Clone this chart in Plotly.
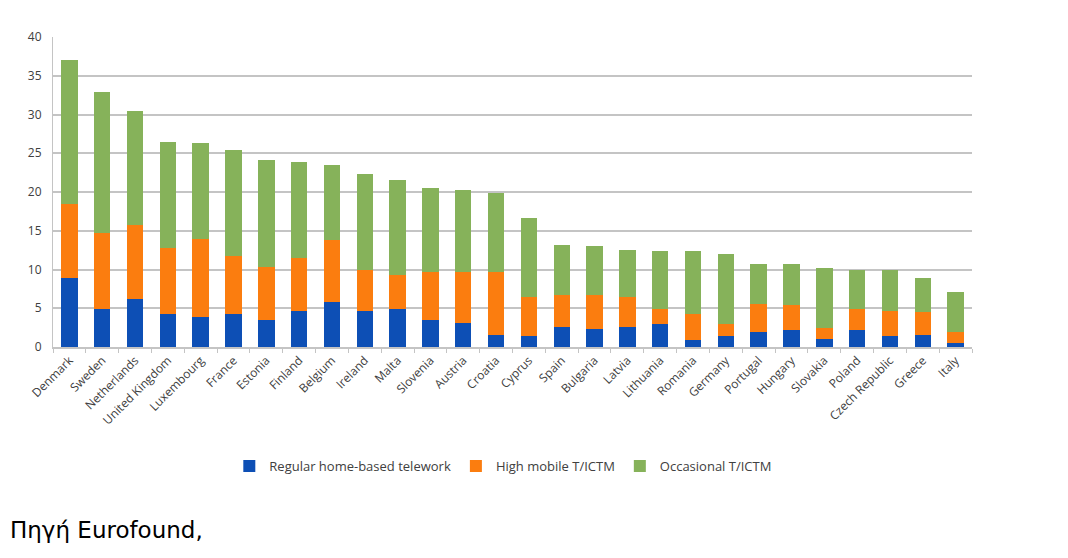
import plotly.graph_objects as go

countries = ["Denmark", "Sweden", "Netherlands", "United Kingdom", "Luxembourg", "France",
             "Estonia", "Finland", "Belgium", "Ireland", "Malta", "Slovenia", "Austria",
             "Croatia", "Cyprus", "Spain", "Bulgaria", "Latvia", "Lithuania", "Romania",
             "Germany", "Portugal", "Hungary", "Slovakia", "Poland", "Czech Republic",
             "Greece", "Italy"]

# stacked segment sizes
regular_home = [8.9, 4.9, 6.2, 4.3, 3.9, 4.3, 3.5, 4.6, 5.8, 4.7, 4.85, 3.5, 3.1,
                1.5, 1.4, 2.6, 2.35, 2.6, 3.0, 0.95, 1.4, 1.9, 2.2, 1.0, 2.15, 1.4,
                1.5, 0.5]
high_mobile = [9.6, 9.85, 9.6, 8.5, 10.1, 7.5, 6.8, 6.9, 8.0, 5.2, 4.45, 6.2, 6.6,
               8.2, 5.0, 4.05, 4.3, 3.9, 1.9, 3.35, 1.6, 3.6, 3.2, 1.5, 2.75, 3.3,
               3.0, 1.4]
occasional = [18.57, 18.15, 14.6, 13.6, 12.3, 13.6, 13.8, 12.4, 9.7, 12.4, 12.2, 10.8, 10.6,
              10.2, 10.2, 6.55, 6.35, 6.0, 7.5, 8.1, 9.0, 5.2, 5.3, 7.7, 5.1, 5.3,
              4.4, 5.2]

series = [
    ("Regular home-based telework", regular_home, "#0d4fb5"),
    ("High mobile T/ICTM", high_mobile, "#fb7d0f"),
    ("Occasional T/ICTM", occasional, "#86b25a"),
]

fig = go.Figure()
for name, vals, col in series:
    fig.add_trace(go.Bar(x=countries, y=vals, name=name, marker=dict(color=col, line=dict(width=0))))

# page body adds 8px on the left/top, so the figure is a bit smaller
fig.update_layout(
    barmode="stack",
    bargap=0.5,
    width=1052, height=542,
    margin=dict(l=45, r=88, t=29, b=203),
    plot_bgcolor="white", paper_bgcolor="white",
    font=dict(family="Open Sans", color="#404040", size=12),
    legend=dict(orientation="h", x=0.49, xanchor="center", y=-0.384, yanchor="middle",
                font=dict(size=13, color="#404040"), traceorder="normal",
                itemwidth=30),
    showlegend=True,
)
fig.update_yaxes(range=[0, 40], dtick=5, showgrid=True, gridcolor="#c4c4c4", gridwidth=1.5,
                 zeroline=False, showline=True, linecolor="#c4c4c4",
                 tickfont=dict(size=12, color="#404040"), ticks="", ticklabelstandoff=8)
fig.update_xaxes(tickangle=-45, showline=True, linecolor="#c4c4c4", linewidth=1.5,
                 ticks="outside", tickson="boundaries", ticklen=4, tickcolor="#c4c4c4",
                 tickfont=dict(size=12, color="#404040"))

fig.add_annotation(text="Πηγή Eurofound,", xref="paper", yref="paper",
                   x=-0.049, y=-0.59, xanchor="left", yanchor="middle", showarrow=False,
                   font=dict(family="DejaVu Sans", size=23, color="black"))

fig.write_html("out.html")
